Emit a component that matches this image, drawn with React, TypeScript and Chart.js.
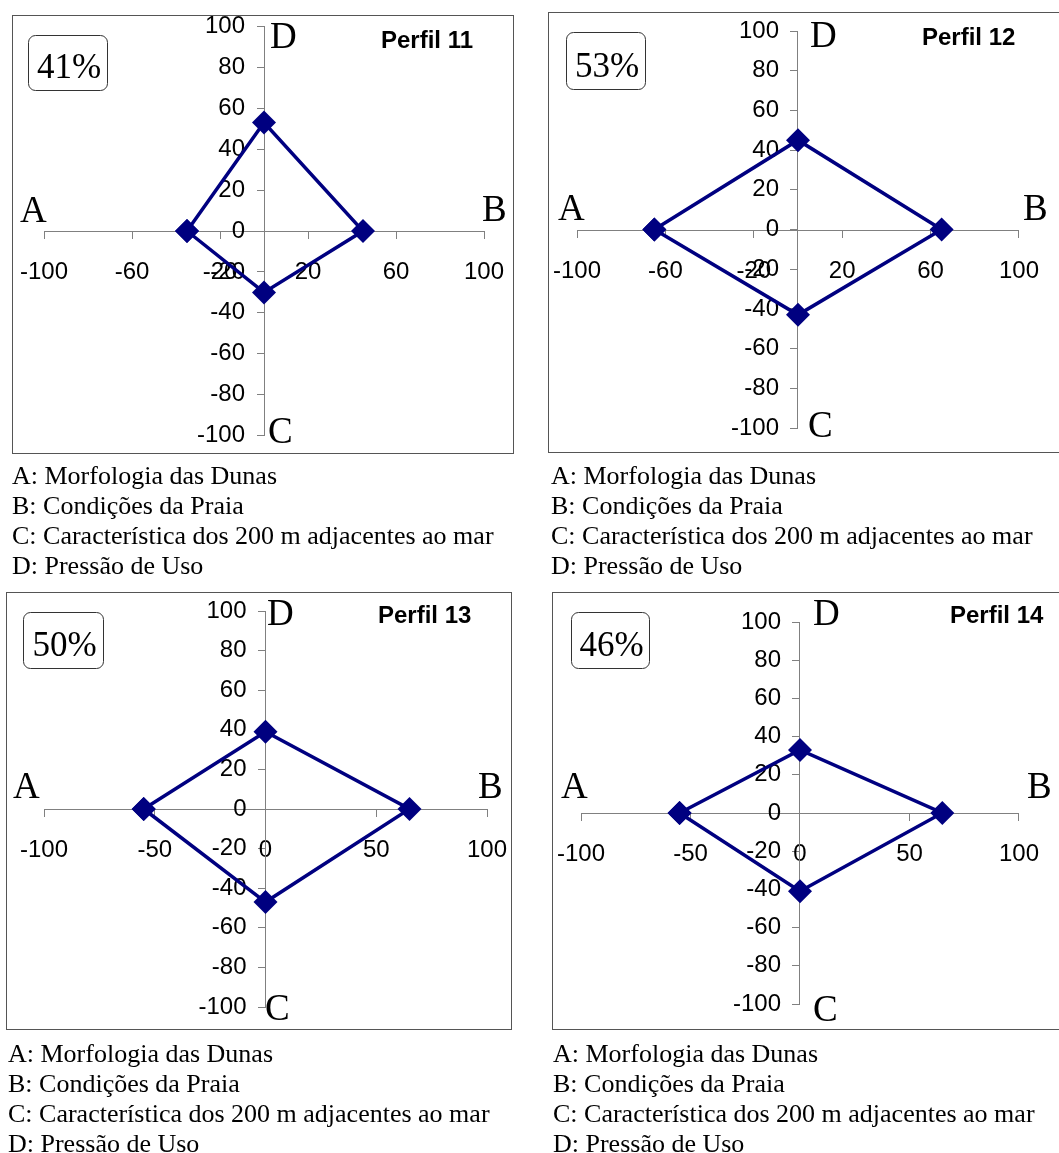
import React, { useEffect, useRef } from 'react';
import { Chart, registerables } from 'chart.js';

Chart.register(...registerables);

// ---------- data ----------
const perfilTitles = ['Perfil 11', 'Perfil 12', 'Perfil 13', 'Perfil 14'];
const percentLabels = ['41%', '53%', '50%', '46%'];
const axisLetters = ['A', 'B', 'C', 'D'];
const valuesA = [-35, -65, -55, -55];
const valuesB = [45, 65, 65, 65];
const valuesC = [-30, -43, -47, -41];
const valuesD = [53, 45, 39, 33];
const xTicksTop = [-100, -60, -20, 20, 60, 100];
const xTicksBottom = [-100, -50, 0, 50, 100];
const yTicks = [-100, -80, -60, -40, -20, 0, 20, 40, 60, 80, 100];
const legendLines = [
  'A: Morfologia das Dunas',
  'B: Condições da Praia',
  'C: Característica dos 200 m adjacentes ao mar',
  'D: Pressão de Uso',
];

// ---------- layout (page coordinates) ----------
type Rect = { l: number; t: number; r: number; b: number };
type Panel = {
  canvas: { x: number; y: number; w: number; h: number };
  box: Rect;
  plot: Rect;
  xTicks: number[];
  letters: [number, number][]; // A, B, C, D (left, baseline)
  title: [number, number];
  pct: Rect;
  legend: { x: number; y: number };
};

const PANELS: Panel[] = [
  {
    canvas: { x: 0, y: 0, w: 530, h: 462 },
    box: { l: 12, t: 15, r: 513, b: 453 },
    plot: { l: 43, t: 20, r: 484, b: 443 },
    xTicks: xTicksTop,
    letters: [[20, 222], [482, 221], [268, 443], [270, 48]],
    title: [381, 48],
    pct: { l: 28, t: 35, r: 107, b: 90 },
    legend: { x: 12, y: 461 },
  },
  {
    canvas: { x: 530, y: 0, w: 529, h: 462 },
    box: { l: 548, t: 12, r: 1070, b: 452 },
    plot: { l: 577, t: 31, r: 1030, b: 428 },
    xTicks: xTicksTop,
    letters: [[558, 220], [1023, 220], [808, 437], [810, 47]],
    title: [922, 45],
    pct: { l: 566, t: 32, r: 645, b: 89 },
    legend: { x: 551, y: 461 },
  },
  {
    canvas: { x: 0, y: 578, w: 530, h: 462 },
    box: { l: 6, t: 592, r: 511, b: 1029 },
    plot: { l: 33, t: 611, r: 487, b: 1007 },
    xTicks: xTicksBottom,
    letters: [[13, 798], [478, 798], [265, 1020], [267, 625]],
    title: [378, 623],
    pct: { l: 23, t: 612, r: 103, b: 668 },
    legend: { x: 8, y: 1039 },
  },
  {
    canvas: { x: 530, y: 578, w: 529, h: 462 },
    box: { l: 552, t: 592, r: 1070, b: 1029 },
    plot: { l: 581, t: 622, r: 1034, b: 1004 },
    xTicks: xTicksBottom,
    letters: [[561, 798], [1027, 798], [813, 1021], [813, 625]],
    title: [950, 623],
    pct: { l: 571, t: 612, r: 649, b: 668 },
    legend: { x: 553, y: 1039 },
  },
];

const NAVY = '#000080';
const AXIS_GRAY = '#808080';
const SANS = '"Liberation Sans", Arial, sans-serif';
const SERIF = '"Liberation Serif", "Times New Roman", serif';

function roundRect(ctx: CanvasRenderingContext2D, x: number, y: number, w: number, h: number, r: number) {
  ctx.beginPath();
  ctx.moveTo(x + r, y);
  ctx.lineTo(x + w - r, y);
  ctx.arcTo(x + w, y, x + w, y + r, r);
  ctx.lineTo(x + w, y + h - r);
  ctx.arcTo(x + w, y + h, x + w - r, y + h, r);
  ctx.lineTo(x + r, y + h);
  ctx.arcTo(x, y + h, x, y + h - r, r);
  ctx.lineTo(x, y + r);
  ctx.arcTo(x, y, x + r, y, r);
  ctx.closePath();
}

function PanelChart({ index }: { index: number }) {
  const ref = useRef<HTMLCanvasElement | null>(null);
  const p = PANELS[index];

  useEffect(() => {
    if (!ref.current) return;
    const ox = p.canvas.x;
    const oy = p.canvas.y;

    const decor = {
      id: 'decor' + index,
      beforeDraw(chart: any) {
        const ctx = chart.ctx as CanvasRenderingContext2D;
        ctx.save();
        ctx.fillStyle = '#ffffff';
        ctx.fillRect(p.box.l - ox, p.box.t - oy, p.box.r - p.box.l, p.box.b - p.box.t);
        ctx.strokeStyle = '#555555';
        ctx.lineWidth = 1;
        ctx.strokeRect(p.box.l - ox + 0.5, p.box.t - oy + 0.5, p.box.r - p.box.l, p.box.b - p.box.t);
        ctx.restore();
      },
      afterDraw(chart: any) {
        const ctx = chart.ctx as CanvasRenderingContext2D;
        ctx.save();
        ctx.fillStyle = '#000000';
        ctx.textBaseline = 'alphabetic';
        ctx.textAlign = 'left';
        ctx.font = `37px ${SERIF}`;
        axisLetters.forEach((letter, i) => {
          const [lx, ly] = p.letters[i];
          ctx.fillText(letter, lx - ox, ly - oy);
        });
        ctx.font = `bold 24px ${SANS}`;
        ctx.fillText(perfilTitles[index], p.title[0] - ox, p.title[1] - oy);
        // percentage box
        const bx = p.pct.l - ox + 0.5;
        const by = p.pct.t - oy + 0.5;
        const bw = p.pct.r - p.pct.l;
        const bh = p.pct.b - p.pct.t;
        roundRect(ctx, bx, by, bw, bh, 7);
        ctx.fillStyle = '#ffffff';
        ctx.fill();
        ctx.strokeStyle = '#333333';
        ctx.lineWidth = 1;
        ctx.stroke();
        ctx.fillStyle = '#000000';
        ctx.font = `35px ${SERIF}`;
        ctx.textAlign = 'center';
        ctx.fillText(percentLabels[index], bx + bw / 2 + 1, by + bh - 13);
        ctx.restore();
      },
    };

    const data = [
      { x: valuesA[index], y: 0 },
      { x: 0, y: valuesD[index] },
      { x: valuesB[index], y: 0 },
      { x: 0, y: valuesC[index] },
      { x: valuesA[index], y: 0 },
    ];

    const tickFont = { family: SANS, size: 24 };
    const xTicks = p.xTicks;

    const chart = new Chart(ref.current, {
      type: 'scatter',
      data: {
        datasets: [
          {
            data,
            showLine: true,
            borderColor: NAVY,
            borderWidth: 3.5,
            backgroundColor: NAVY,
            pointStyle: 'rectRot',
            pointRadius: 12,
            pointBackgroundColor: NAVY,
            pointBorderColor: NAVY,
            pointBorderWidth: 0,
            tension: 0,
            clip: false,
          } as any,
        ],
      },
      options: {
        responsive: false,
        animation: false,
        devicePixelRatio: 1,
        events: [],
        layout: {
          padding: {
            left: p.plot.l - ox,
            top: p.plot.t - oy,
            right: ox + p.canvas.w - p.plot.r,
            bottom: oy + p.canvas.h - p.plot.b,
          },
        },
        plugins: {
          legend: { display: false },
          tooltip: { enabled: false },
          title: { display: false },
        },
        scales: {
          x: {
            type: 'linear',
            position: 'center',
            min: -100,
            max: 100,
            afterBuildTicks: (scale: any) => {
              scale.ticks = xTicks.map((v) => ({ value: v }));
            },
            grid: {
              drawOnChartArea: false,
              drawTicks: true,
              tickLength: 7,
              color: AXIS_GRAY,
              tickColor: AXIS_GRAY,
            },
            border: { display: true, color: AXIS_GRAY, width: 1 },
            ticks: {
              font: tickFont,
              color: '#000000',
              padding: 20,
              autoSkip: false,
              maxRotation: 0,
              callback: (v: any) => String(v),
            },
          },
          y: {
            type: 'linear',
            position: 'center',
            min: -100,
            max: 100,
            afterBuildTicks: (scale: any) => {
              scale.ticks = yTicks.map((v) => ({ value: v }));
            },
            grid: {
              drawOnChartArea: false,
              drawTicks: true,
              tickLength: 7,
              color: AXIS_GRAY,
              tickColor: AXIS_GRAY,
            },
            border: { display: true, color: AXIS_GRAY, width: 1 },
            ticks: {
              font: tickFont,
              color: '#000000',
              padding: 12,
              autoSkip: false,
              callback: (v: any) => String(v),
            },
          },
        } as any,
      },
      plugins: [decor as any],
    });
    return () => chart.destroy();
  }, [index]);

  return (
    <canvas
      ref={ref}
      width={p.canvas.w}
      height={p.canvas.h}
      style={{
        position: 'absolute',
        left: p.canvas.x,
        top: p.canvas.y,
        width: p.canvas.w,
        height: p.canvas.h,
      }}
    />
  );
}

export default function App() {
  return (
    <div
      style={{
        position: 'absolute',
        left: 0,
        top: 0,
        width: 1059,
        height: 1153,
        overflow: 'hidden',
        background: '#ffffff',
      }}
    >
      {PANELS.map((p, i) => (
        <PanelChart key={'c' + i} index={i} />
      ))}
      {PANELS.map((p, i) => (
        <div
          key={'l' + i}
          style={{
            position: 'absolute',
            left: p.legend.x,
            top: p.legend.y,
            fontFamily: SERIF,
            fontSize: 26,
            lineHeight: '30px',
            whiteSpace: 'nowrap',
            color: '#000',
          }}
        >
          {legendLines.map((line, j) => (
            <div key={j}>{line}</div>
          ))}
        </div>
      ))}
    </div>
  );
}
